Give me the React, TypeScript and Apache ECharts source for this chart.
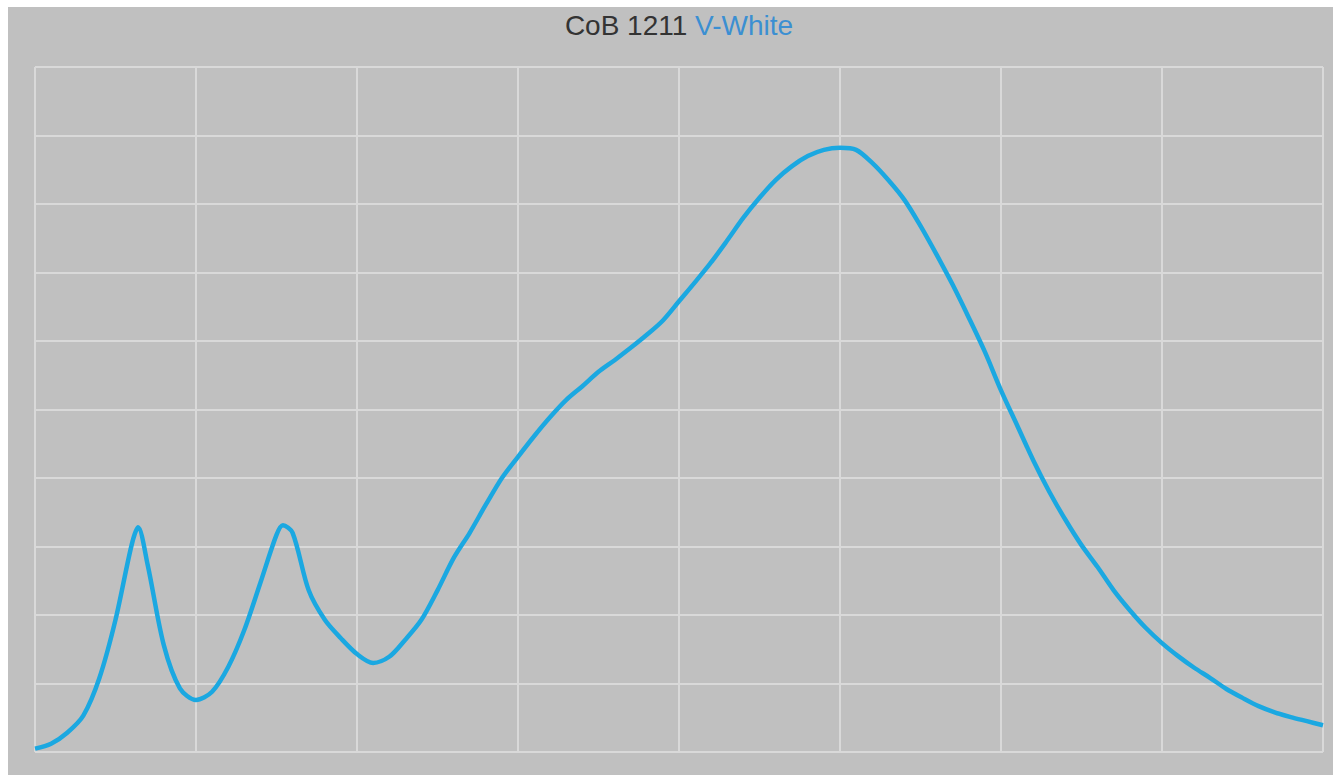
import React, { useEffect, useRef } from "react";
import * as echarts from "echarts";

// Relative spectral power of the CoB 1211 V-White LED, 380–780 nm.
const wavelengths: number[] = [
  380, 385, 390, 395, 400, 405, 410, 412, 415, 420, 425, 430, 435, 440, 445, 450,
  455, 457, 460, 465, 470, 475, 480, 485, 490, 495, 500, 505, 510, 515, 520, 525,
  530, 535, 540, 545, 550, 555, 560, 565, 570, 575, 580, 585, 590, 595, 600, 605,
  610, 615, 620, 625, 630, 635, 640, 645, 650, 655, 660, 665, 670, 675, 680, 685,
  690, 695, 700, 705, 710, 715, 720, 725, 730, 735, 740, 745, 750, 755, 760, 765,
  770, 775, 780,
];

const intensity: number[] = [
  0.005, 0.012, 0.028, 0.053, 0.108, 0.193, 0.302, 0.328, 0.273, 0.156, 0.093, 0.076, 0.088, 0.124, 0.178, 0.247,
  0.317, 0.331, 0.32, 0.236, 0.193, 0.166, 0.143, 0.13, 0.139, 0.164, 0.193, 0.236, 0.283, 0.32, 0.361, 0.4,
  0.431, 0.461, 0.489, 0.514, 0.534, 0.555, 0.572, 0.59, 0.609, 0.63, 0.658, 0.686, 0.715, 0.747, 0.78, 0.809,
  0.835, 0.855, 0.87, 0.879, 0.882, 0.879, 0.86, 0.835, 0.806, 0.768, 0.726, 0.682, 0.634, 0.584, 0.528, 0.477,
  0.426, 0.38, 0.339, 0.302, 0.27, 0.236, 0.207, 0.181, 0.159, 0.14, 0.123, 0.108, 0.092, 0.079, 0.067, 0.058,
  0.051, 0.045, 0.039,
];

const titleName = "CoB 1211";
const titleVariant = "V-White";

export default function App() {
  const ref = useRef<HTMLDivElement>(null);

  useEffect(() => {
    if (!ref.current) return;
    const chart = echarts.init(ref.current, undefined, { renderer: "svg" });
    const points = wavelengths.map((w, i) => [w, intensity[i]]);
    const gridLine = { show: true, lineStyle: { color: "#d9d9d9", width: 2 } };

    chart.setOption({
      animation: false,
      backgroundColor: "#c0c0c0",
      grid: { left: 27, right: 10, top: 60, bottom: 23, containLabel: false },
      graphic: [
        {
          type: "text",
          x: 671,
          y: 18,
          style: {
            text: `{a|${titleName} }{b|${titleVariant}}`,
            align: "center",
            verticalAlign: "middle",
            rich: {
              a: { fontFamily: "Liberation Sans, Arial, sans-serif", fontSize: 28, fill: "#333333", color: "#333333" },
              b: { fontFamily: "Liberation Sans, Arial, sans-serif", fontSize: 28, fill: "#3b8fd2", color: "#3b8fd2" },
            },
          },
        },
      ],
      xAxis: {
        type: "value",
        min: 380,
        max: 780,
        interval: 50,
        axisLine: { show: false },
        axisTick: { show: false },
        axisLabel: { show: false },
        splitLine: gridLine,
      },
      yAxis: {
        type: "value",
        min: 0,
        max: 1,
        interval: 0.1,
        axisLine: { show: false },
        axisTick: { show: false },
        axisLabel: { show: false },
        splitLine: gridLine,
      },
      series: [
        {
          type: "line",
          data: points,
          smooth: 0.3,
          showSymbol: false,
          symbol: "none",
          lineStyle: { color: "#1ba8e1", width: 4.5 },
        },
      ],
    });

    return () => chart.dispose();
  }, []);

  return (
    <div
      ref={ref}
      style={{ position: "fixed", left: 8, top: 7, width: 1325, height: 768 }}
    />
  );
}
